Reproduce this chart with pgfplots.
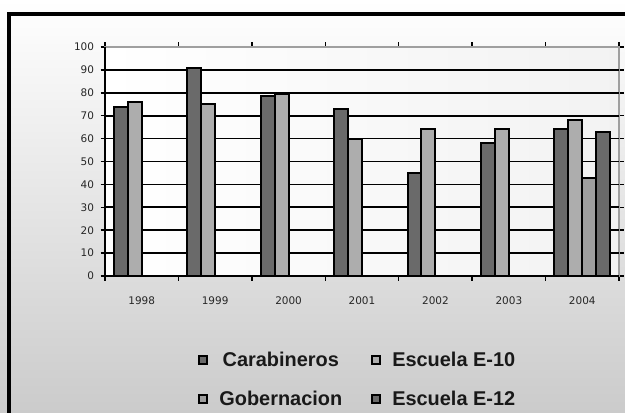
\documentclass[border=0pt]{standalone}
\usepackage{fontspec}
\setmainfont{Liberation Sans}
\newfontfamily\tickfont{DejaVu Sans}
\usepackage{pgfplots}
\pgfplotsset{compat=1.18}
\definecolor{bgbot}{HTML}{CBCBCB}
\definecolor{darkbar}{HTML}{6A6A6A}
\definecolor{lightbar}{HTML}{ADADAD}
\definecolor{midbar}{HTML}{9E9E9E}
\begin{document}
\begin{tikzpicture}
\path[use as bounding box] (0bp,0bp) rectangle (625bp,413bp);
\shade[top color=white, bottom color=bgbot] (0bp,0bp) rectangle (625bp,413bp);
\begin{scope}
  \clip (0bp,0bp) rectangle (625bp,413bp);
  \draw[line width=3.4bp] (9bp,-20bp) -- (9bp,399bp) -- (660bp,399bp);
\end{scope}
\begin{axis}[
  scale only axis,
  width=514bp, height=229bp,
  at={(105bp,137bp)}, anchor=south west,
  xmin=-0.5, xmax=6.5,
  ymin=0, ymax=100,
  ybar=0pt, bar width=0.19,
  axis background/.style={left color=white, right color=black!5},
  axis line style={draw=gray!75, line width=1.4bp},
  xtick={-0.5,0.5,...,6.5}, xticklabels={},
  extra x ticks={0,1,...,6},
  extra x tick labels={1998,1999,2000,2001,2002,2003,2004},
  extra x tick style={major tick length=0pt},
  ytick={0,10,...,100},
  extra y ticks={10,20,...,90}, extra y tick labels={},
  extra y tick style={ymajorgrids=true, major tick length=0pt},
  major grid style={black, line width=1.7bp},
  tick align=outside, major tick length=4.5bp,
  tick style={black, line width=1.5bp},
  /pgf/number format/assume math mode=true,
  ticklabel style={font=\tickfont\fontsize{10.5}{12}\selectfont, text=black!85},
  xticklabel style={yshift=-17bp},
  yticklabel style={xshift=-3bp},
  legend columns=2,
  legend style={at={(0.181,-0.322)}, anchor=north west, draw=none, fill=none,
    inner sep=0pt, row sep=19bp,
    font=\bfseries\fontsize{20}{23}\selectfont, text=black!90,
    /tikz/every odd column/.append style={column sep=9.5bp},
    /tikz/every even column/.append style={column sep=27bp}},
  legend image code/.code={\draw[#1, draw=black, line width=2bp] (0bp,-3.8bp) rectangle (7.6bp,3.8bp);},
  after end axis/.code={
    \draw[black, line width=1.7bp] (rel axis cs:0,1) -- (rel axis cs:0,0) -- (rel axis cs:1,0);
  },
]
\addplot[draw=black, line width=2bp, fill=darkbar]
  coordinates {(0,74) (1,91) (2,78.5) (3,73) (4,45) (5,58) (6,64)};
\addplot[draw=black, line width=2bp, fill=lightbar]
  coordinates {(0,76) (1,75) (2,79.5) (3,60) (4,64) (5,64) (6,68)};
\addplot[draw=black, line width=2bp, fill=midbar]
  coordinates {(6,43)};
\addplot[draw=black, line width=2bp, fill=darkbar]
  coordinates {(6,63)};
\legend{Carabineros, Escuela E-10, Gobernacion, Escuela E-12}
\end{axis}
\end{tikzpicture}
\end{document}
